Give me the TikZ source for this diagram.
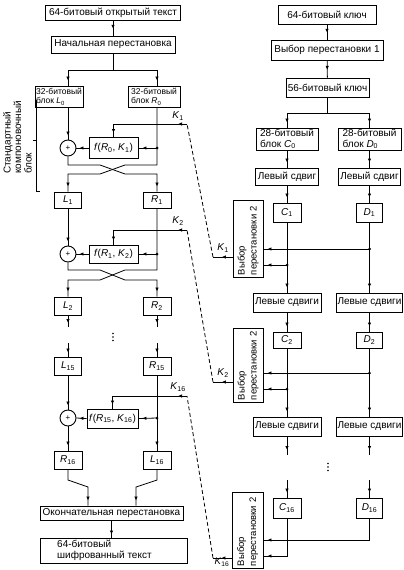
\documentclass[tikz,border=0pt]{standalone}
\usepackage{fontspec}
\setmainfont{Liberation Sans}
\usetikzlibrary{arrows.meta,decorations.markings}
\newcommand{\fsz}{\fontsize{10}{10.5}\selectfont}
\newcommand{\fsm}{\fontsize{8.5}{9.5}\selectfont}
\newcommand{\fsv}{\fontsize{9.5}{12}\selectfont}
\newcommand{\iv}[2]{\textit{#1}\textsubscript{#2}}
\tikzset{
  box/.style={draw, line width=0.9pt, inner sep=1pt, font=\fsz, align=center},
  ln/.style={line width=0.8pt},
  am/.style={postaction={decorate,decoration={markings,mark=at position #1 with {\arrow{Latex[length=4pt,width=3.5pt]}}}}},
  amm/.style 2 args={postaction={decorate,decoration={markings,mark=at position #1 with {\arrow{Latex[length=4pt,width=3.5pt]}},mark=at position #2 with {\arrow{Latex[length=4pt,width=3.5pt]}}}}},
  dsh/.style={line width=0.8pt, dash pattern=on 4pt off 2.5pt},
  xorc/.style={draw, circle, line width=0.9pt, minimum size=16pt, inner sep=0pt, font=\fontsize{8}{8}\selectfont},
  jdot/.style={circle, fill, inner sep=0pt, minimum size=3pt},
  sdot/.style={circle, fill, inner sep=0pt, minimum size=1.6pt},
  lbl/.style={font=\fsz, inner sep=0pt},
  vbox/.style={draw, line width=0.9pt, rotate=90, font=\fsv, align=left, inner sep=2pt},
}
\begin{document}
\begin{tikzpicture}[x=1pt,y=-1pt]
\useasboundingbox (0,0) rectangle (404,570);
% columns
\coordinate (cL) at (68,0);
\coordinate (cR) at (157,0);
% ---------------- left part ----------------
\node[box, minimum width=135pt, minimum height=15pt] (pt) at (113,12.5) {64-битовый открытый текст};
\node[box, minimum width=124pt, minimum height=17pt] (ip) at (113,44.5) {Начальная перестановка};
\draw[ln, am=0.55] (pt) -- (ip);
\coordinate (sp) at (113,70);
\node[box, font=\fsm, align=left, minimum width=48pt, minimum height=21pt] (L0) at (59,96.5) {32-битовый\\блок \iv{L}{0}};
\node[box, font=\fsm, align=left, minimum width=52pt, minimum height=21pt] (R0) at (154,96.5) {32-битовый\\блок \iv{R}{0}};
\draw[ln] (ip) -- (sp);
\draw[ln, am=-5pt] (sp) -| (L0.north -| cL);
\draw[ln, am=-5pt] (sp) -| (R0.north -| cR);

% round 1
\node[xorc] (x1) at (68,148) {+};
\node[box, minimum width=49pt, minimum height=21pt] (f1) at (113.5,148) {\textit{f}(\iv{R}{0}, \iv{K}{1})};
\coordinate (j1) at (157,148);
\node[jdot] (d1) at (j1) {};
\node[box, minimum width=27pt, minimum height=16pt] (L1) at (68,200) {\iv{L}{1}};
\node[box, minimum width=28pt, minimum height=16pt] (R1) at (157,200) {\iv{R}{1}};
\draw[ln, am=-4pt] (L0.south -| cL) -- (x1.north);
\draw[ln, am=-4pt] (j1) -- (f1.east);
\draw[ln, am=-3pt] (f1.west) -- (x1.east);
\draw[ln, am=-5pt] (x1.south) -- (68,165) -- (100,165) -- (125,174) -- (157,174) -- (R1.north);
\draw[ln, am=-5pt] (R0.south -| cR) -- (157,165) -- (125,165) -- (100,174) -- (68,174) -- (L1.north);
\coordinate (k1t) at (187,124);
\coordinate (k1b) at (213,257);
\node[lbl] (k1l) at (178,116) {\iv{K}{1}};
\draw[ln, amm={9pt}{-4pt}] (k1t) -- (f1.north |- k1t) -- (f1.north);

% round 2
\node[xorc] (x2) at (68,254) {+};
\node[box, minimum width=49pt, minimum height=18pt] (f2) at (113.5,254) {\textit{f}(\iv{R}{1}, \iv{K}{2})};
\coordinate (j2) at (157,254);
\node[jdot] (d2) at (j2) {};
\node[box, minimum width=27pt, minimum height=18pt] (L2) at (68,306) {\iv{L}{2}};
\node[box, minimum width=28pt, minimum height=18pt] (R2) at (157,306) {\iv{R}{2}};
\draw[ln, am=-4pt] (L1) -- (x2);
\draw[ln, am=-4pt] (j2) -- (f2.east);
\draw[ln, am=-3pt] (f2.west) -- (x2.east);
\draw[ln, am=-5pt] (x2.south) -- (68,270) -- (100,270) -- (125,280) -- (157,280) -- (R2.north);
\draw[ln, am=-5pt] (R1.south) -- (157,270) -- (125,270) -- (100,280) -- (68,280) -- (L2.north);
\coordinate (k2t) at (187,230);
\coordinate (k2b) at (213,382);
\node[lbl] (k2l) at (178,221) {\iv{K}{2}};
\draw[ln, amm={9pt}{-4pt}] (k2t) -- (f2.north |- k2t) -- (f2.north);

% continuation
\coordinate (l2e) at (68,327);
\coordinate (r2e) at (157,327);
\draw[ln, am=-4pt] (L2.south) -- (l2e);
\draw[ln, am=-4pt] (R2.south) -- (r2e);
\node[sdot] (v1a) at (113,333.5) {};
\node[sdot] (v1b) at (113,337) {};
\node[sdot] (v1c) at (113,340.5) {};
\node[box, minimum width=27pt, minimum height=18pt] (L15) at (68,366) {\iv{L}{15}};
\node[box, minimum width=28pt, minimum height=18pt] (R15) at (157,366) {\iv{R}{15}};
\coordinate (l15s) at (68,343);
\coordinate (r15s) at (157,343);
\draw[ln, am=-4pt] (l15s) -- (L15.north);
\draw[ln, am=-4pt] (r15s) -- (R15.north);

% round 16
\node[xorc] (x3) at (68,418) {+};
\node[box, minimum width=51pt, minimum height=19pt] (f3) at (112.5,418.5) {\textit{f}(\iv{R}{15}, \iv{K}{16})};
\coordinate (j3) at (157,418);
\node[jdot] (d3) at (j3) {};
\draw[ln, am=-4pt] (L15) -- (x3);
\draw[ln, am=-4pt] (j3) -- (f3.east);
\draw[ln, am=-3pt] (f3.west) -- (x3.east);
\coordinate (k3t) at (187,396);
\coordinate (k3b) at (213,558);
\node[lbl] (k3l) at (178,387) {\iv{K}{16}};
\draw[ln, amm={9pt}{-4pt}] (k3t) -- (f3.north |- k3t) -- (f3.north);
\node[box, minimum width=28pt, minimum height=18pt] (R16) at (68,460) {\iv{R}{16}};
\node[box, minimum width=28pt, minimum height=18pt] (L16) at (157,460) {\iv{L}{16}};
\draw[ln, am=-5pt] (x3) -- (R16);
\draw[ln, am=-5pt] (R15) -- (L16);

% output
\node[box, minimum width=143pt, minimum height=14pt] (fp) at (111.5,513) {Окончательная перестановка};
\coordinate (b1) at (88,487);
\coordinate (b2) at (136,487);
\draw[ln, am=-5pt] (R16.south) -- (68,480) -- (b1) -- (fp.north -| b1);
\draw[ln, am=-5pt] (L16.south) -- (157,480) -- (b2) -- (fp.north -| b2);
\node[box, minimum width=147pt, minimum height=25pt] (ct) at (113.5,550.5) {};
\node[font=\fsz, align=left, anchor=west, inner sep=0pt] (ctt) at (57,550.5) {64-битовый\\шифрованный текст};
\draw[ln, am=-3pt] (fp.south) -- (fp.south |- ct.north);

% standard block bracket
\draw[ln] (36,100) -- (36,191) -- (40,191);
\draw[ln] (36,140) -- (33,140);
\node[rotate=90, anchor=north west, font=\fsz, align=left, inner sep=0pt] (sb) at (3,174) {Стандартный\\компоновочный\\блок};

% ---------------- right part ----------------
\node[box, minimum width=98pt, minimum height=19pt] (key) at (327,14.5) {64-битовый ключ};
\node[box, minimum width=112pt, minimum height=20pt] (pc1) at (327,50) {Выбор перестановки 1};
\node[box, minimum width=83pt, minimum height=19pt] (k56) at (327.5,87.5) {56-битовый ключ};
\draw[ln, am=0.55] (key) -- (pc1);
\draw[ln, am=0.55] (pc1) -- (k56);
\coordinate (sp2) at (327.5,113);
\draw[ln] (k56) -- (sp2);
\node[box, align=left, minimum width=62pt, minimum height=22pt] (C0) at (287,139) {28-битовый\\блок \iv{C}{0}};
\node[box, align=left, minimum width=63pt, minimum height=22pt] (D0) at (369.5,139) {28-битовый\\блок \iv{D}{0}};
\draw[ln, am=-5pt] (sp2) -| (C0.north);
\draw[ln, am=-5pt] (sp2) -| (D0.north);
\node[box, minimum width=63pt, minimum height=17pt] (LSc) at (287,176.5) {Левый сдвиг};
\node[box, minimum width=62pt, minimum height=17pt] (LSd) at (369.5,176.5) {Левый сдвиг};
\draw[ln, am=-5pt] (C0) -- (LSc);
\draw[ln, am=-5pt] (D0) -- (LSd);
\node[box, minimum width=28pt, minimum height=19pt] (C1) at (287,212.5) {\iv{C}{1}};
\node[box, minimum width=26pt, minimum height=19pt] (D1) at (369.5,212.5) {\iv{D}{1}};
\draw[ln, am=-5pt] (LSc) -- (C1);
\draw[ln, am=-5pt] (LSd) -- (D1);
\node[vbox, text width=73pt, minimum height=30pt] (pa) at (248,238.5) {Выбор\\перестановки 2};
\node[box, minimum width=68pt, minimum height=19pt] (LS1c) at (287,302.5) {Левые сдвиги};
\node[box, minimum width=64pt, minimum height=19pt] (LS1d) at (369.5,302.5) {Левые сдвиги};
\draw[ln, am=-5pt] (C1) -- (LS1c);
\draw[ln, am=-5pt] (D1) -- (LS1d);
\coordinate (jd1) at (369.5,249);
\coordinate (jc1) at (287,265);
\node[jdot] (dd1) at (jd1) {};
\node[jdot] (dc1) at (jc1) {};
\draw[ln, am=-4pt] (jd1) -- (pa.south |- jd1);
\draw[ln, am=-4pt] (jc1) -- (pa.south |- jc1);
\node[lbl] (k1r) at (223,248) {\iv{K}{1}};
\draw[ln, am=0.55] (pa.north |- k1b) -- (k1b);
\draw[dsh] (k1b) -- (k1t);

% round 2 keys
\node[box, minimum width=28pt, minimum height=16pt] (C2) at (287,340) {\iv{C}{2}};
\node[box, minimum width=26pt, minimum height=16pt] (D2) at (369.5,340) {\iv{D}{2}};
\draw[ln, am=-5pt] (LS1c) -- (C2);
\draw[ln, am=-5pt] (LS1d) -- (D2);
\node[vbox, text width=70pt, minimum height=30pt] (pb) at (248,365) {Выбор\\перестановки 2};
\node[box, minimum width=68pt, minimum height=19pt] (LS2c) at (287,426.5) {Левые сдвиги};
\node[box, minimum width=64pt, minimum height=19pt] (LS2d) at (369.5,426.5) {Левые сдвиги};
\draw[ln, am=-5pt] (C2) -- (LS2c);
\draw[ln, am=-5pt] (D2) -- (LS2d);
\coordinate (jd2) at (369.5,373);
\coordinate (jc2) at (287,389);
\node[jdot] (dd2) at (jd2) {};
\node[jdot] (dc2) at (jc2) {};
\draw[ln, am=-4pt] (jd2) -- (pb.south |- jd2);
\draw[ln, am=-4pt] (jc2) -- (pb.south |- jc2);
\node[lbl] (k2r) at (223,373) {\iv{K}{2}};
\draw[ln, am=0.55] (pb.north |- k2b) -- (k2b);
\draw[dsh] (k2b) -- (k2t);

% continuation
\coordinate (c2e) at (287,455);
\coordinate (d2e) at (369.5,455);
\draw[ln, am=-5pt] (LS2c) -- (c2e);
\draw[ln, am=-5pt] (LS2d) -- (d2e);
\node[sdot] (v2a) at (328,463.5) {};
\node[sdot] (v2b) at (328,467) {};
\node[sdot] (v2c) at (328,470.5) {};
\node[box, minimum width=28pt, minimum height=20pt] (C16) at (287,508) {\iv{C}{16}};
\node[box, minimum width=26pt, minimum height=20pt] (D16) at (369.5,508) {\iv{D}{16}};
\coordinate (c16s) at (287,480);
\coordinate (d16s) at (369.5,480);
\draw[ln, am=-5pt] (c16s) -- (C16.north);
\draw[ln, am=-5pt] (d16s) -- (D16.north);
\node[vbox, text width=72pt, minimum height=31pt] (pc) at (247.5,530) {Выбор\\перестановки 2};
\coordinate (ed) at (369.5,540);
\coordinate (ec) at (287,556);
\draw[ln, am=-4pt] (D16.south) -- (ed) -- (pc.south |- ed);
\draw[ln, am=-4pt] (C16.south) -- (ec) -- (pc.south |- ec);
\node[lbl, font=\fontsize{9.5}{10}\selectfont] (k3r) at (222,562.5) {\iv{K}{16}};
\draw[ln, am=0.55] (pc.north |- k3b) -- (k3b);
\draw[dsh] (k3b) -- (k3t);
\end{tikzpicture}
\end{document}
